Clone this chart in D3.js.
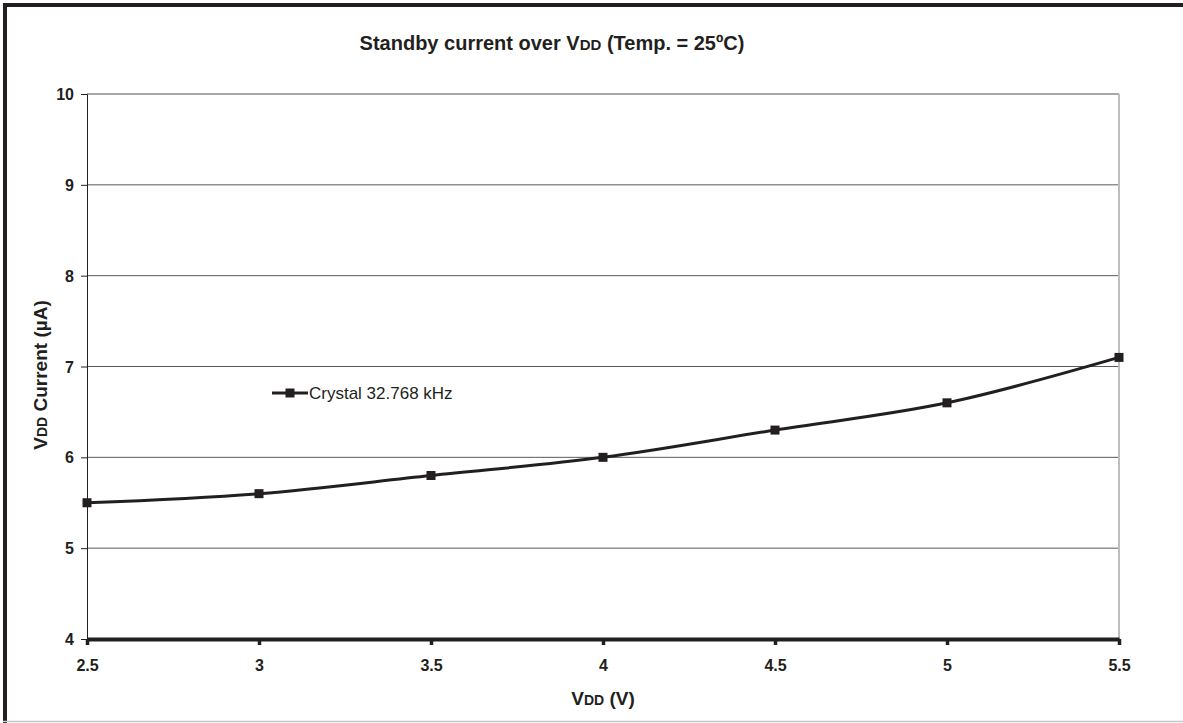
<!DOCTYPE html>
<html>
<head>
<meta charset="utf-8">
<script src="https://cdn.jsdelivr.net/npm/d3@7"></script>
<style>
  body { margin: 0; background: #fff; }
  text { font-family: "Liberation Sans", Arial, sans-serif; fill: #231f20; }
</style>
</head>
<body>
<div id="chart"></div>
<script>
// ---------------------------//
//        DATA                //
// ---------------------------//
const vdd = [2.5, 3, 3.5, 4, 4.5, 5, 5.5];
const current = [5.5, 5.6, 5.8, 6.0, 6.3, 6.6, 7.1];
const xTicks = [2.5, 3, 3.5, 4, 4.5, 5, 5.5];
const yTicks = [4, 5, 6, 7, 8, 9, 10];
const seriesName = "Crystal 32.768 kHz";

// ---------------------------//
//        CANVAS              //
// ---------------------------//
const W = 1183, H = 723;
const margin = {top: 94, right: 64, bottom: 84, left: 87};
const width = W - margin.left - margin.right,
    height = H - margin.top - margin.bottom;

const root = d3.select("#chart").append("svg")
    .attr("width", W)
    .attr("height", H);

// outer frame: thick dark top/left, thin grey bottom
root.append("line").attr("x1", 3).attr("x2", W).attr("y1", 5).attr("y2", 5)
    .attr("stroke", "#231f20").attr("stroke-width", 4);
root.append("line").attr("x1", 5).attr("x2", 5).attr("y1", 3).attr("y2", H)
    .attr("stroke", "#231f20").attr("stroke-width", 4);
root.append("line").attr("x1", 3).attr("x2", W).attr("y1", 721.5).attr("y2", 721.5)
    .attr("stroke", "#c8c8c8").attr("stroke-width", 1.5);

const svg = root.append("g")
    .attr("transform", `translate(${margin.left},${margin.top})`);

// ---------------------------//
//        SCALES & AXES       //
// ---------------------------//
const x = d3.scaleLinear().domain([2.5, 5.5]).range([0, width]);
const y = d3.scaleLinear().domain([4, 10]).range([height, 0]);

// horizontal grid lines
svg.append("g")
    .selectAll("line")
    .data(yTicks.filter(d => d > 4))
    .join("line")
    .attr("x1", 0).attr("x2", width)
    .attr("y1", d => y(d)).attr("y2", d => y(d))
    .attr("stroke", d => d === 10 ? "#8a8a8a" : "#5a5a5a")
    .attr("stroke-width", d => d === 10 ? 1.5 : 1);

// right border of plot
svg.append("line")
    .attr("x1", width).attr("x2", width)
    .attr("y1", 0).attr("y2", height)
    .attr("stroke", "#bcbec0").attr("stroke-width", 2);

// Y axis
const yAxis = svg.append("g")
    .call(d3.axisLeft(y).tickValues(yTicks).tickSize(6).tickPadding(7).tickFormat(d3.format("d")));
yAxis.select(".domain").attr("stroke", "#231f20").attr("stroke-width", 1);
yAxis.selectAll(".tick line").attr("stroke", "#231f20");
yAxis.selectAll("text")
    .attr("dy", "0.35em")
    .style("font-family", "'Liberation Sans', Arial, sans-serif")
    .style("font-size", "16px").style("font-weight", "bold");

// X axis
const xAxis = svg.append("g")
    .attr("transform", `translate(0,${height})`)
    .call(d3.axisBottom(x).tickValues(xTicks).tickSizeInner(6).tickSizeOuter(0).tickPadding(15).tickFormat(d => String(d)));
xAxis.select(".domain").attr("stroke", "#231f20").attr("stroke-width", 4);
xAxis.selectAll(".tick line").attr("stroke", "#231f20").attr("stroke-width", 3.5);
xAxis.selectAll("text")
    .style("font-family", "'Liberation Sans', Arial, sans-serif")
    .style("font-size", "16px").style("font-weight", "bold");

// ---------------------------//
//        SERIES              //
// ---------------------------//
const data = vdd.map((v, i) => ({v: v, c: current[i]}));

const line = d3.line()
    .x(d => x(d.v))
    .y(d => y(d.c))
    .curve(d3.curveCardinal.tension(0));

svg.append("path")
    .datum(data)
    .attr("d", line)
    .attr("fill", "none")
    .attr("stroke", "#231f20")
    .attr("stroke-width", 3);

const ms = 9;
svg.selectAll(".marker")
    .data(data)
    .join("rect")
    .attr("class", "marker")
    .attr("x", d => x(d.v) - ms / 2)
    .attr("y", d => y(d.c) - ms / 2)
    .attr("width", ms).attr("height", ms)
    .attr("fill", "#231f20");

// ---------------------------//
//        LEGEND              //
// ---------------------------//
const lg = root.append("g").attr("transform", "translate(272,393)");
lg.append("line").attr("x1", 0).attr("x2", 36).attr("y1", 0).attr("y2", 0)
    .attr("stroke", "#231f20").attr("stroke-width", 3);
lg.append("rect").attr("x", 18 - ms / 2).attr("y", -ms / 2)
    .attr("width", ms).attr("height", ms).attr("fill", "#231f20");
lg.append("text").attr("x", 37).attr("y", 0).attr("dy", "0.35em")
    .style("font-size", "17px")
    .text(seriesName);

// ---------------------------//
//        TITLES              //
// ---------------------------//
const title = root.append("text")
    .attr("x", 552).attr("y", 50)
    .attr("text-anchor", "middle")
    .style("font-size", "20px").style("font-weight", "bold");
title.append("tspan").text("Standby current over V");
title.append("tspan").style("font-size", "15px").text("DD");
title.append("tspan").text(" (Temp. = 25ºC)");

const xl = root.append("text")
    .attr("x", margin.left + x(4)).attr("y", 705)
    .attr("text-anchor", "middle")
    .style("font-size", "19px").style("font-weight", "bold");
xl.append("tspan").text("V");
xl.append("tspan").style("font-size", "14px").text("DD");
xl.append("tspan").text(" (V)");

const yl = root.append("text")
    .attr("transform", "translate(47,375)rotate(-90)")
    .attr("text-anchor", "middle")
    .style("font-size", "19px").style("font-weight", "bold");
yl.append("tspan").text("V");
yl.append("tspan").style("font-size", "14px").text("DD");
yl.append("tspan").text(" Current (µA)");
</script>
</body>
</html>
